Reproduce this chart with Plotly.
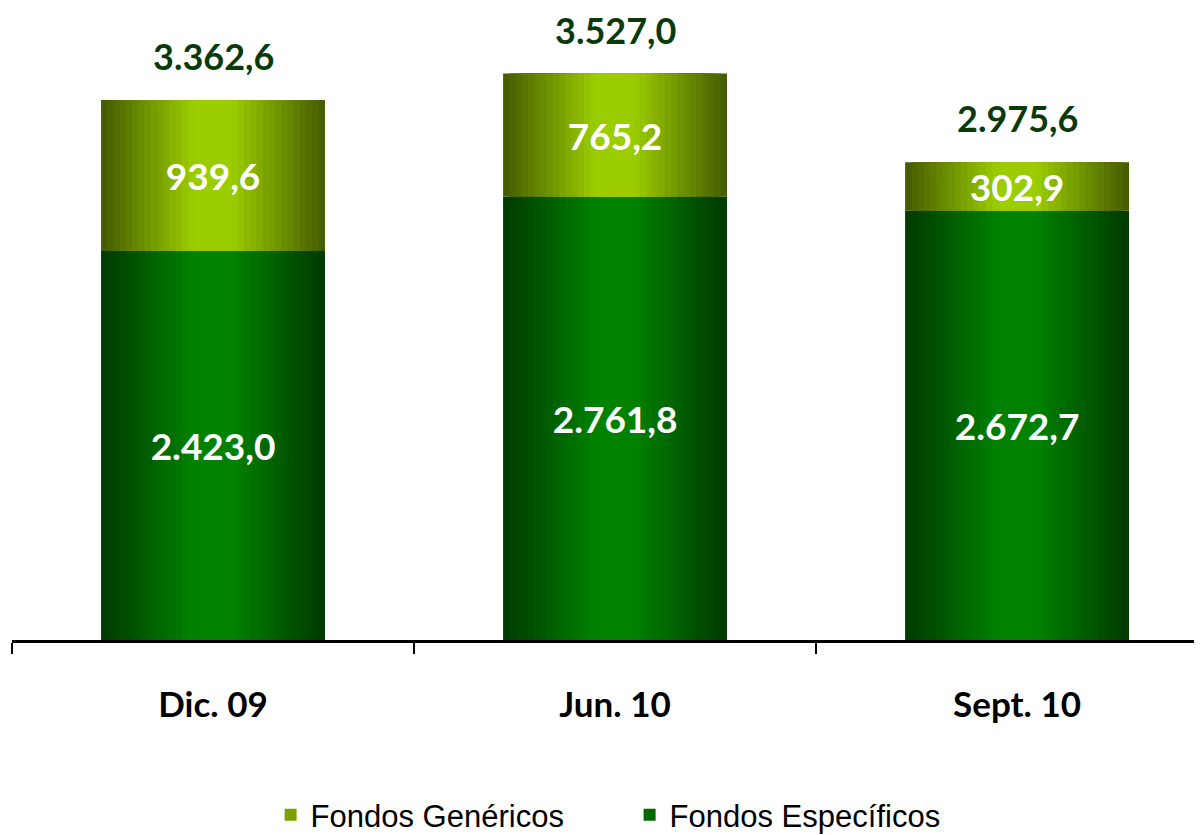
import plotly.graph_objects as go

categories = ["Dic. 09", "Jun. 10", "Sept. 10"]
especificos = [2423.0, 2761.8, 2672.7]
genericos = [939.6, 765.2, 302.9]
totales = [3362.6, 3527.0, 2975.6]

BAR_W = 0.557
N_LAYERS = 18

def mix(c1, c2, t):
    return "rgb(%d,%d,%d)" % tuple(round(a + (b - a) * t) for a, b in zip(c1, c2))

ESP_DARK, ESP_BRIGHT = (0, 60, 0), (0, 130, 0)
GEN_DARK, GEN_BRIGHT = (70, 94, 0), (155, 205, 0)

fig = go.Figure()

def add_series(name, values, base, dark, bright, rank):
    for i in range(N_LAYERS):
        frac = 1 - i / N_LAYERS
        t = min(1.0, i / (N_LAYERS * 0.8))
        show = (i == N_LAYERS // 2)
        fig.add_trace(go.Bar(
            x=categories, y=values, base=base,
            width=BAR_W * frac,
            marker=dict(color=mix(dark, bright, t), line=dict(width=0)),
            name=name, showlegend=show, legendrank=rank,
            legendgroup=name, hoverinfo="skip",
        ))
    # transparent label layer
    fig.add_trace(go.Bar(
        x=categories, y=values, base=base, width=BAR_W,
        marker=dict(color="rgba(0,0,0,0)", line=dict(width=0)),
        texttemplate="%{y:,.1f}", textposition="inside",
        insidetextanchor="middle", constraintext="none",
        textfont=dict(family="Lato", size=37, color="white", weight="bold"),
        showlegend=False, legendgroup=name, hoverinfo="skip",
    ))

add_series("Fondos Específicos", especificos, [0, 0, 0], ESP_DARK, ESP_BRIGHT, 2)
add_series("Fondos Genéricos", genericos, especificos, GEN_DARK, GEN_BRIGHT, 1)

for c, tot in zip(categories, totales):
    fig.add_annotation(
        x=c, y=tot, text=f"{tot:,.1f}".replace(",", "X").replace(".", ",").replace("X", "."),
        showarrow=False, yanchor="middle", yshift=44,
        font=dict(family="Lato", size=36, color="#0a3a0a", weight="bold"),
    )

fig.update_layout(
    barmode="overlay",
    separators=",.",
    width=1194, height=827,
    margin=dict(l=4, r=0, t=0, b=195, autoexpand=False),
    plot_bgcolor="white", paper_bgcolor="white",
    legend=dict(
        orientation="h", x=0.519, xanchor="center", y=-0.277, yanchor="middle",
        font=dict(family="Liberation Sans", size=31, color="black"),
        itemsizing="constant", itemwidth=30, entrywidth=314,
    ),
    xaxis=dict(
        range=[-0.5, 2.46], automargin=False,
        showline=True, linecolor="black", linewidth=3,
        tickson="boundaries", ticks="outside", ticklen=11, tickwidth=2, tickcolor="black",
        tickfont=dict(family="Lato", size=35, color="black", weight="bold"),
        ticklabelstandoff=32,
        showgrid=False, zeroline=False,
    ),
    yaxis=dict(
        range=[0, 3935.5], visible=False, showgrid=False, zeroline=False, automargin=False,
    ),
)

fig.write_html("out.html")
